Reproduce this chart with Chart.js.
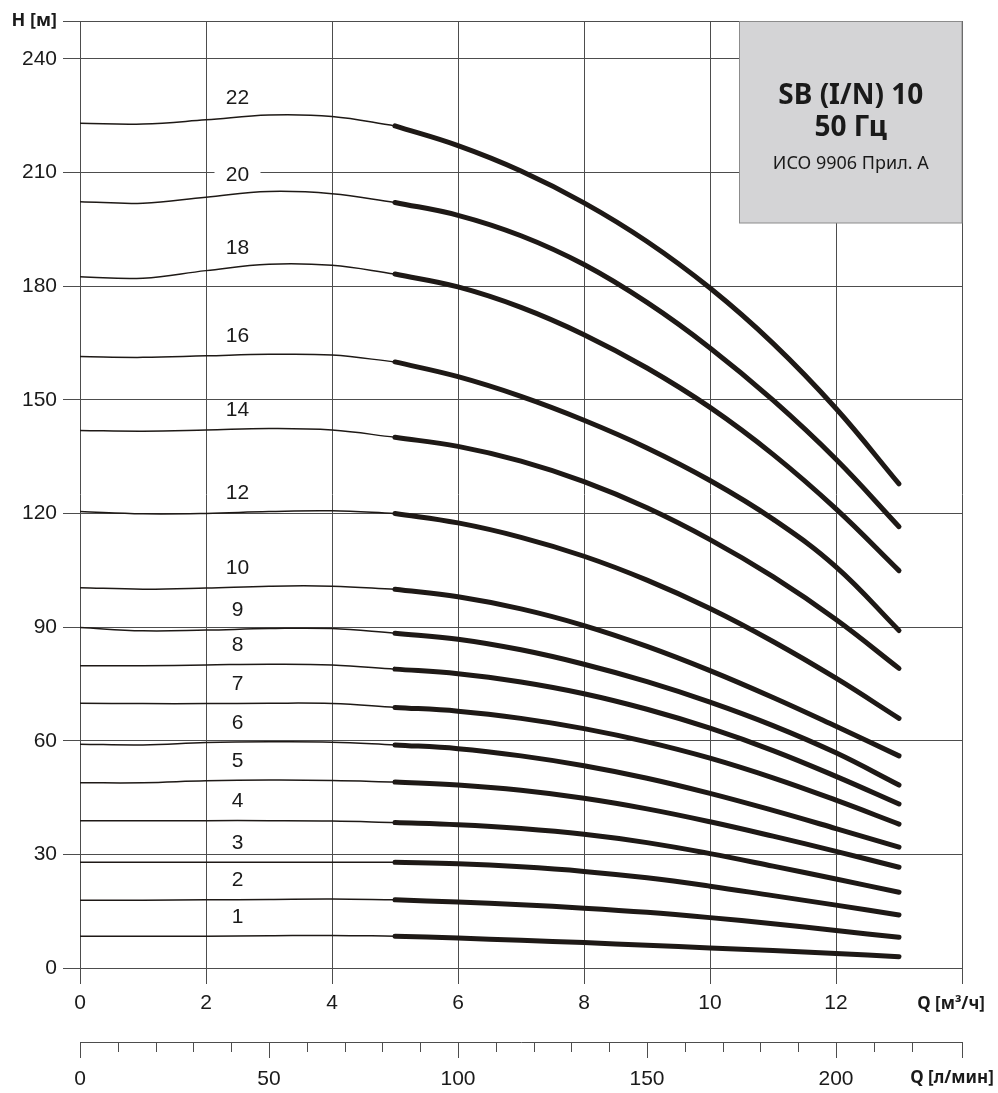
<!DOCTYPE html>
<html><head><meta charset="utf-8">
<script src="https://cdn.jsdelivr.net/npm/chart.js@4.4.0/dist/chart.umd.min.js"></script>
<style>html,body{margin:0;padding:0;background:#fff;}#wrap{width:998px;height:1093px;}</style>
</head><body><div id="wrap"><canvas id="c" width="998" height="1093"></canvas></div>
<script>
// ---- data (Q in m3/h, H in m) ----
const flowLow = [0, 1, 2, 3, 4, 5];
const flowHigh = [5, 6, 7, 8, 9, 10, 11, 12, 13];
const stages = [22, 20, 18, 16, 14, 12, 10, 9, 8, 7, 6, 5, 4, 3, 2, 1];

const low22 = [223.0, 222.8, 223.9, 225.2, 224.8, 222.3];
const low20 = [202.3, 201.9, 203.5, 205.0, 204.4, 202.1];
const low18 = [182.5, 182.1, 184.1, 185.8, 185.5, 183.2];
const low16 = [161.4, 161.2, 161.6, 162.0, 161.8, 160.0];
const low14 = [141.9, 141.7, 142.0, 142.4, 142.0, 140.1];
const low12 = [120.5, 119.9, 120.0, 120.5, 120.7, 120.0];
const low10 = [100.4, 100.0, 100.3, 100.8, 100.8, 100.0];
const low9  = [89.9, 89.0, 89.2, 89.6, 89.6, 88.4];
const low8  = [79.8, 79.8, 80.0, 80.2, 80.0, 78.9];
const low7  = [69.9, 69.8, 69.8, 69.9, 69.8, 68.8];
const low6  = [59.1, 58.9, 59.5, 59.7, 59.6, 58.9];
const low5  = [48.9, 48.9, 49.4, 49.6, 49.5, 49.1];
const low4  = [38.9, 38.9, 38.9, 38.9, 38.8, 38.4];
const low3  = [27.9, 27.9, 27.9, 27.9, 27.9, 27.9];
const low2  = [17.9, 17.9, 18.0, 18.1, 18.2, 18.0];
const low1  = [8.4, 8.4, 8.4, 8.5, 8.6, 8.4];

const high22 = [222.3, 217.1, 210.4, 202.0, 191.8, 179.5, 164.9, 147.7, 127.8];
const high20 = [202.1, 198.7, 193.3, 185.7, 175.7, 163.7, 149.9, 134.3, 116.5];
const high18 = [183.2, 179.8, 174.4, 167.2, 158.4, 148.0, 135.6, 121.2, 104.9];
const high16 = [160.0, 156.1, 150.9, 144.6, 137.3, 128.7, 118.5, 105.9, 89.1];
const high14 = [140.1, 137.7, 133.8, 128.4, 121.5, 113.1, 103.3, 92.0, 79.1];
const high12 = [120.0, 117.5, 113.7, 108.7, 102.4, 94.9, 86.2, 76.5, 65.9];
const high10 = [100.0, 98.0, 94.8, 90.4, 84.9, 78.5, 71.4, 63.8, 56.0];
const high9  = [88.4, 86.8, 84.0, 80.2, 75.6, 70.2, 64.0, 56.8, 48.3];
const high8  = [78.9, 77.7, 75.5, 72.4, 68.3, 63.3, 57.4, 50.6, 43.3];
const high7  = [68.8, 67.8, 65.9, 63.2, 59.7, 55.4, 50.2, 44.3, 38.0];
const high6  = [58.9, 57.9, 56.0, 53.4, 50.1, 46.1, 41.6, 36.8, 31.9];
const high5  = [49.1, 48.3, 46.9, 44.8, 42.0, 38.6, 34.8, 30.8, 26.6];
const high4  = [38.4, 37.8, 36.8, 35.3, 33.1, 30.2, 26.9, 23.5, 20.0];
const high3  = [27.9, 27.5, 26.7, 25.5, 23.8, 21.6, 19.1, 16.6, 14.0];
const high2  = [18.0, 17.4, 16.7, 15.8, 14.7, 13.3, 11.7, 9.9, 8.1];
const high1  = [8.4, 7.9, 7.3, 6.7, 6.0, 5.3, 4.6, 3.8, 3.0];

const lowHeads = [low22, low20, low18, low16, low14, low12, low10, low9, low8, low7, low6, low5, low4, low3, low2, low1];
const highHeads = [high22, high20, high18, high16, high14, high12, high10, high9, high8, high7, high6, high5, high4, high3, high2, high1];

const yTickValues = [0, 30, 60, 90, 120, 150, 180, 210, 240, 250];
const xTickValues = [0, 2, 4, 6, 8, 10, 12, 14];
const lpmLabels = [0, 50, 100, 150, 200];
const titleLines = ['SB (I/N) 10', '50 Гц', 'ИСО 9906 Прил. А'];
const labelFlow = 2.5;

const INK = '#1e1916';
const GRID = '#4d4d4d';

const datasets = [];
stages.forEach((s, i) => {
  datasets.push({
    label: s + ' low',
    data: flowLow.map((q, j) => ({x: q, y: lowHeads[i][j]})),
    borderColor: INK, borderWidth: 1.5, pointRadius: 0,
    tension: 0.4, fill: false
  });
  datasets.push({
    label: s + ' high',
    data: flowHigh.map((q, j) => ({x: q, y: highHeads[i][j]})),
    borderColor: INK, borderWidth: 5, pointRadius: 0, borderCapStyle: 'round',
    tension: 0.4, fill: false
  });
});

const deco = {
  id: 'deco',
  beforeDatasetsDraw(chart) {
    const ctx = chart.ctx;
    ctx.save();
    const bx = 739.5, by = 21.5, bw = 962 - 739.5, bh = 223 - 21.5;
    ctx.fillStyle = '#d4d4d6';
    ctx.fillRect(bx, by, bw, bh);
    ctx.strokeStyle = '#8c8c8c';
    ctx.lineWidth = 1;
    ctx.strokeRect(bx, by, bw, bh);
    const cx = bx + bw / 2;
    ctx.fillStyle = '#1a1a1a';
    ctx.textAlign = 'center';
    ctx.textBaseline = 'alphabetic';
    ctx.font = 'bold 28px "Noto Sans"';
    ctx.fillText(titleLines[0], cx, 104);
    ctx.fillText(titleLines[1], cx, 136);
    ctx.font = '18px "Noto Sans"';
    ctx.fillText(titleLines[2], cx, 169);
    ctx.restore();
  },
  afterDatasetsDraw(chart) {
    const ctx = chart.ctx;
    const xs = chart.scales.x, ys = chart.scales.y, x2 = chart.scales.x2;
    ctx.save();
    ctx.font = '21px "Liberation Sans"';
    ctx.textAlign = 'center';
    ctx.textBaseline = 'middle';
    stages.forEach((s, i) => {
      const v = (lowHeads[i][2] + lowHeads[i][3]) / 2;
      const px = xs.getPixelForValue(labelFlow);
      const py = ys.getPixelForValue(v) - 19;
      if (s === 20) {
        ctx.fillStyle = '#fff';
        ctx.fillRect(px - 23, py - 9, 46, 18);
      }
      ctx.fillStyle = '#1a1a1a';
      ctx.fillText(String(s), px, py);
    });
    ctx.font = 'bold 17px "Noto Sans"';
    ctx.textAlign = 'center';
    ctx.fillText('Q [м³/ч]', 951, 1004);
    ctx.fillText('Q [л/мин]', 952, 1078);
    ctx.strokeStyle = GRID;
    ctx.lineWidth = 1;
    const yTop = x2.top;
    const vals = x2.ticks.map(t => t.value).concat([x2.max]);
    vals.forEach(v => {
      const px = Math.round(x2.getPixelForValue(v)) + 0.5;
      const major = Math.abs(v % 50) < 1e-6 || Math.abs(v - x2.max) < 1e-6;
      ctx.beginPath();
      ctx.moveTo(px, yTop);
      ctx.lineTo(px, yTop + (major ? 16 : 10));
      ctx.stroke();
    });
    ctx.restore();
  }
};

new Chart(document.getElementById('c'), {
  type: 'line',
  data: {datasets},
  plugins: [deco],
  options: {
    responsive: false, animation: false, devicePixelRatio: 1,
    layout: {padding: {top: 21, right: 36, left: 0, bottom: 0}},
    plugins: {legend: {display: false}, tooltip: {enabled: false}},
    scales: {
      x: {
        type: 'linear', position: 'bottom', weight: 0, min: 0, max: 14,
        afterBuildTicks: s => { s.ticks = xTickValues.map(v => ({value: v})); },
        ticks: {
          callback: v => (v === 14 ? '' : String(v)),
          font: {family: 'Liberation Sans', size: 21}, color: '#1a1a1a',
          padding: 7, maxRotation: 0, autoSkip: false
        },
        grid: {color: GRID, lineWidth: 1, tickLength: 16, tickColor: GRID},
        border: {display: false},
        afterFit: s => { s.height = 74; }
      },
      x2: {
        type: 'linear', position: 'bottom', weight: 1, min: 0, max: 14 * 1000 / 60,
        ticks: {
          stepSize: 10,
          callback: v => (lpmLabels.some(l => Math.abs(l - v) < 1e-6) ? String(Math.round(v)) : ''),
          font: {family: 'Liberation Sans', size: 21}, color: '#1a1a1a',
          padding: 25, maxRotation: 0, autoSkip: false
        },
        grid: {drawOnChartArea: false, drawTicks: false},
        border: {display: true, color: GRID, width: 1},
        afterFit: s => { s.height = 51; }
      },
      y: {
        type: 'linear', min: 0, max: 250,
        afterBuildTicks: s => { s.ticks = yTickValues.map(v => ({value: v})); },
        ticks: {
          callback: v => (v === 250 ? 'H [м]' : String(v)),
          font: c => (c.tick && c.tick.value === 250
            ? {family: 'Noto Sans', size: 18, weight: 'bold'}
            : {family: 'Liberation Sans', size: 21}),
          color: '#1a1a1a', padding: 6, autoSkip: false
        },
        grid: {color: GRID, lineWidth: 1, tickLength: 17, tickColor: GRID},
        border: {display: false},
        afterFit: s => { s.width = 80; }
      }
    }
  }
});
</script></body></html>
